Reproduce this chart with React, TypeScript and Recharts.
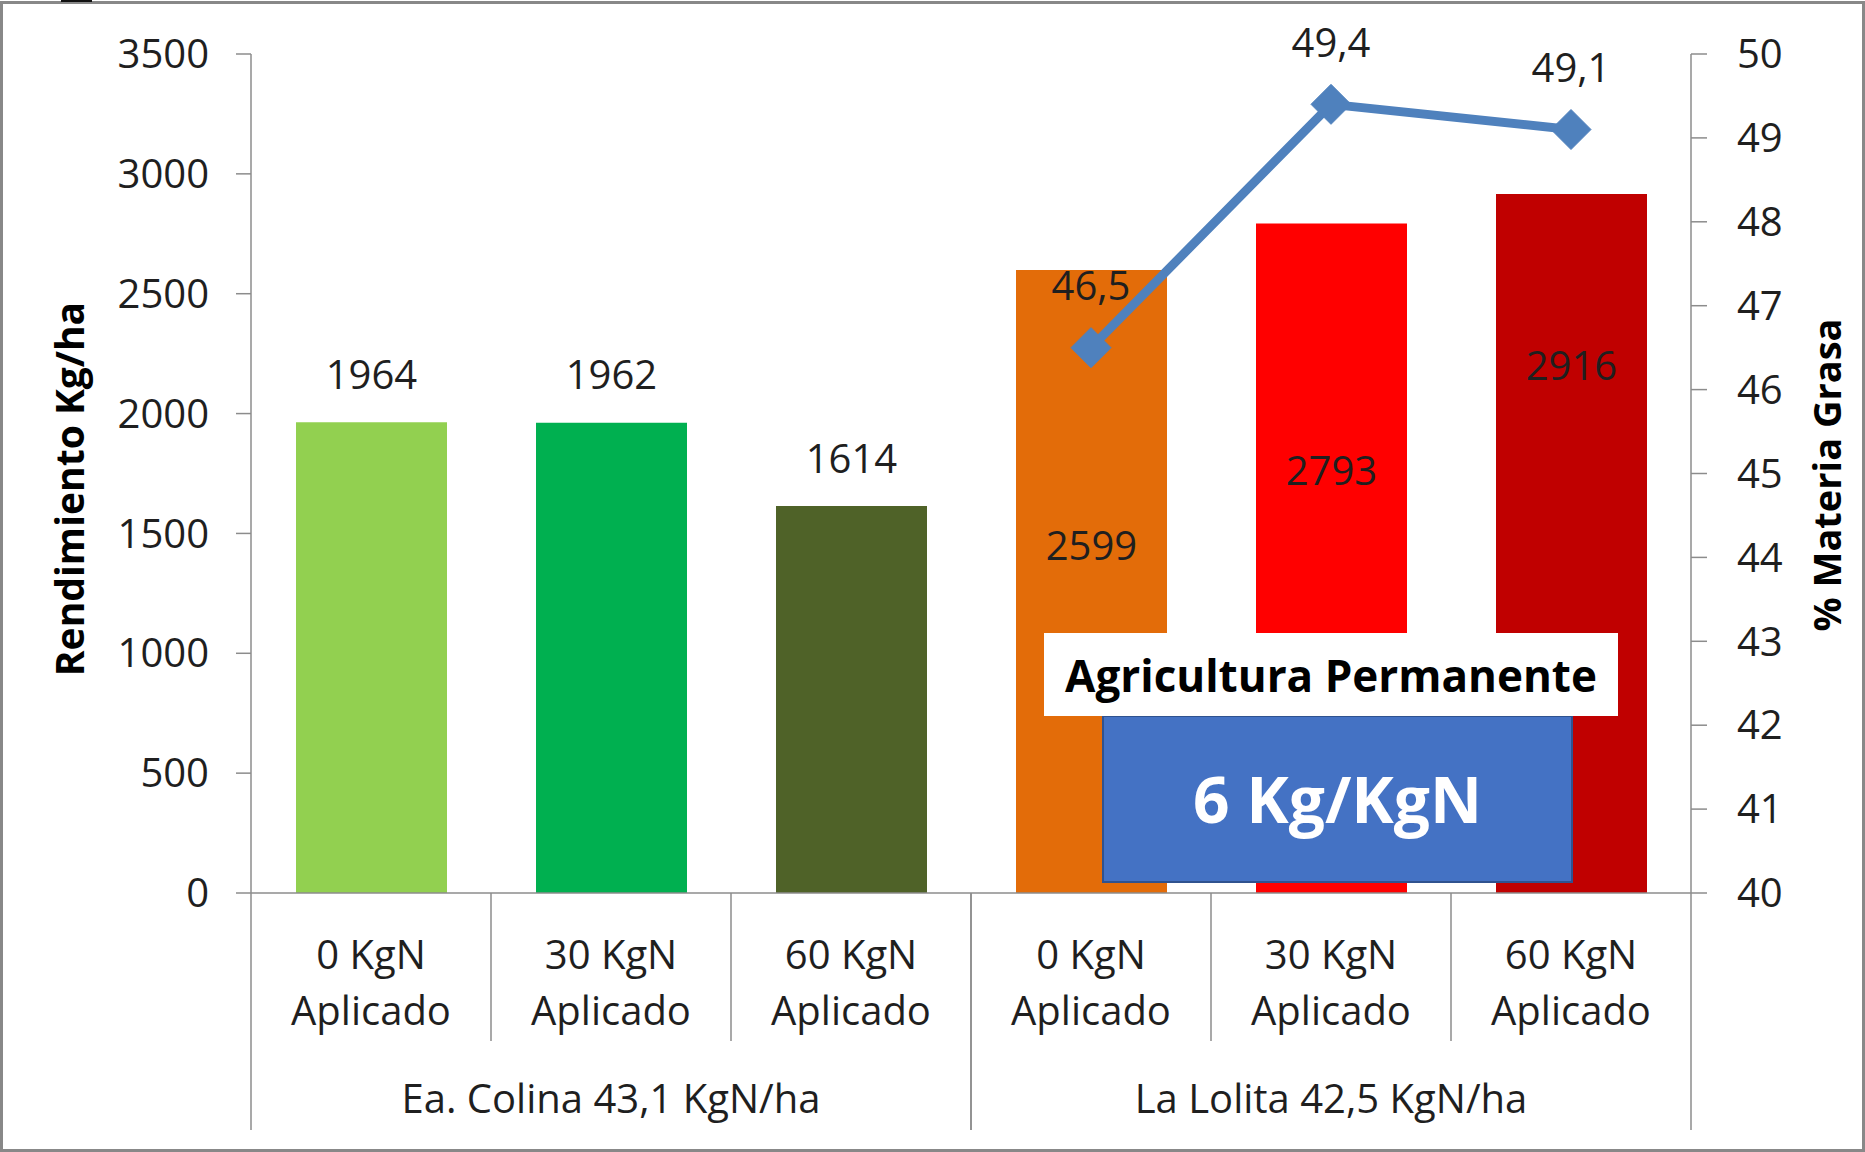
import { Bar, Cell, ComposedChart, LabelList, Line, XAxis, YAxis } from 'recharts';

const groups = ['Ea. Colina 43,1 KgN/ha', 'La Lolita 42,5 KgN/ha'];
const doses = [
  '0 KgN\nAplicado',
  '30 KgN\nAplicado',
  '60 KgN\nAplicado',
  '0 KgN\nAplicado',
  '30 KgN\nAplicado',
  '60 KgN\nAplicado',
];
const rendimiento = [1964, 1962, 1614, 2599, 2793, 2916];
const materiaGrasa: (number | null)[] = [null, null, null, 46.5, 49.4, 49.1];
const rendTicks = [0, 500, 1000, 1500, 2000, 2500, 3000, 3500];
const grasaTicks = [40, 41, 42, 43, 44, 45, 46, 47, 48, 49, 50];

const BAR_COLORS = ['#92D050', '#00B050', '#4F6228', '#E36C09', '#FF0000', '#C00000'];
const LINE_COLOR = '#4F81BD';
const AXIS_COLOR = '#8c8c8c';
const TEXT_COLOR = '#1f1f1f';
const FONT = '"Open Sans", "Noto Sans", sans-serif';

// La Lolita bar labels sit inside the bars, this far below the bar top (px)
const INNER_LABEL_DROP = [276, 247, 172];

const W = 1865;
const H = 1152;
const MARGIN = { top: 54, right: 54, bottom: 19, left: 101 };
const Y_LEFT_W = 150;
const Y_RIGHT_W = 120;
const X_AXIS_H = 240;
const AXIS_Y = H - MARGIN.bottom - X_AXIS_H;
const PLOT_W = W - MARGIN.left - MARGIN.right - Y_LEFT_W - Y_RIGHT_W;
const BAND = PLOT_W / doses.length;

const data = doses.map((d, i) => ({
  id: String(i),
  dose: d,
  rend: rendimiento[i],
  grasa: materiaGrasa[i],
}));

const fmtComma = (v: number) => v.toFixed(1).replace('.', ',');

function CategoryTick(props: any) {
  const { x, index } = props;
  const half = BAND / 2;
  const sub = index % 3;
  const [l1, l2] = doses[index].split('\n');
  const txt = { textAnchor: 'middle' as const, fill: TEXT_COLOR, fontSize: 40, fontFamily: FONT, dy: '0.36em' };
  return (
    <g>
      <text x={x} y={AXIS_Y + 62} {...txt}>{l1}</text>
      <text x={x} y={AXIS_Y + 118} {...txt}>{l2}</text>
      {sub < 2 && (
        <line x1={x + half} x2={x + half} y1={AXIS_Y} y2={AXIS_Y + 148} stroke={AXIS_COLOR} strokeWidth={1.5} />
      )}
      {sub === 0 && (
        <line x1={x - half} x2={x - half} y1={AXIS_Y} y2={AXIS_Y + 237} stroke={AXIS_COLOR} strokeWidth={1.5} />
      )}
      {sub === 2 && (
        <line x1={x + half} x2={x + half} y1={AXIS_Y} y2={AXIS_Y + 237} stroke={AXIS_COLOR} strokeWidth={1.5} />
      )}
      {sub === 1 && (
        <text x={x} y={AXIS_Y + 206} {...txt}>{groups[Math.floor(index / 3)]}</text>
      )}
    </g>
  );
}

function RendLabel(props: any) {
  const vb = props.viewBox || {};
  const x = props.x ?? vb.x;
  const y = props.y ?? vb.y;
  const width = props.width ?? vb.width;
  const { value, index } = props;
  if (value == null || x == null) return null;
  const cy = index < 3 ? y - 48 : y + INNER_LABEL_DROP[index - 3];
  return (
    <text x={x + width / 2} y={cy} dy="0.36em" textAnchor="middle" fill={TEXT_COLOR} fontSize={40} fontFamily={FONT}>
      {value}
    </text>
  );
}

function GrasaLabel(props: any) {
  const vb = props.viewBox || {};
  const x = props.x ?? vb.x;
  const y = props.y ?? vb.y;
  const { value } = props;
  if (value == null || x == null || y == null) return null;
  return (
    <text x={x} y={y - 62} dy="0.36em" textAnchor="middle" fill={TEXT_COLOR} fontSize={40} fontFamily={FONT}>
      {fmtComma(value)}
    </text>
  );
}

function Diamond(props: any) {
  const { cx, cy, index, value } = props;
  if (value == null || cx == null || cy == null) return <g key={`d${index}`} />;
  const r = 20;
  return (
    <path
      key={`d${index}`}
      d={`M${cx},${cy - r} L${cx + r},${cy} L${cx},${cy + r} L${cx - r},${cy} Z`}
      fill={LINE_COLOR}
      stroke={LINE_COLOR}
    />
  );
}

export default function App() {
  return (
    <div style={{ position: 'absolute', left: 0, top: 0, width: W, height: H, background: '#fff', fontFamily: FONT }}>
      <div
        style={{
          position: 'absolute',
          left: 0,
          top: 1,
          width: W,
          height: H - 1,
          boxSizing: 'border-box',
          border: '3px solid #888',
        }}
      />
      <div style={{ position: 'absolute', left: 61, top: 0, width: 31, height: 2, background: '#111' }} />

      <div style={{ position: 'absolute', left: 0, top: 0 }}>
        <ComposedChart width={W} height={H} data={data} margin={MARGIN}>
          <XAxis
            dataKey="id"
            height={X_AXIS_H}
            interval={0}
            tickLine={false}
            tickSize={0}
            tickMargin={0}
            axisLine={{ stroke: AXIS_COLOR, strokeWidth: 1.5 }}
            tick={(p: any) => <CategoryTick {...p} />}
          />
          <YAxis
            yAxisId="left"
            width={Y_LEFT_W}
            domain={[0, 3500]}
            ticks={rendTicks}
            interval={0}
            tickSize={15}
            tickMargin={27}
            axisLine={{ stroke: AXIS_COLOR, strokeWidth: 1.5 }}
            tickLine={{ stroke: AXIS_COLOR, strokeWidth: 1.5 }}
            tick={{ fill: TEXT_COLOR, fontSize: 40, fontFamily: FONT }}
          />
          <YAxis
            yAxisId="right"
            orientation="right"
            width={Y_RIGHT_W}
            domain={[40, 50]}
            ticks={grasaTicks}
            interval={0}
            tickSize={16}
            tickMargin={30}
            axisLine={{ stroke: AXIS_COLOR, strokeWidth: 1.5 }}
            tickLine={{ stroke: AXIS_COLOR, strokeWidth: 1.5 }}
            tick={{ fill: TEXT_COLOR, fontSize: 40, fontFamily: FONT, textAnchor: 'start' }}
          />
          <Bar yAxisId="left" dataKey="rend" barSize={151} isAnimationActive={false}>
            {data.map((d, i) => (
              <Cell key={d.id} fill={BAR_COLORS[i]} />
            ))}
            <LabelList dataKey="rend" content={(p: any) => <RendLabel {...p} />} />
          </Bar>
          <Line
            yAxisId="right"
            dataKey="grasa"
            stroke={LINE_COLOR}
            strokeWidth={9}
            dot={(p: any) => <Diamond {...p} />}
            activeDot={false}
            isAnimationActive={false}
          >
            <LabelList dataKey="grasa" content={(p: any) => <GrasaLabel {...p} />} />
          </Line>
        </ComposedChart>
      </div>

      {/* axis titles */}
      <div
        style={{
          position: 'absolute',
          left: 68,
          top: 489,
          transform: 'translate(-50%, -50%) rotate(-90deg)',
          whiteSpace: 'nowrap',
          fontSize: 39,
          fontWeight: 700,
          lineHeight: 1,
          color: '#000',
        }}
      >
        Rendimiento Kg/ha
      </div>
      <div
        style={{
          position: 'absolute',
          left: 1826,
          top: 475,
          transform: 'translate(-50%, -50%) rotate(-90deg)',
          whiteSpace: 'nowrap',
          fontSize: 38,
          fontWeight: 700,
          lineHeight: 1,
          color: '#000',
        }}
      >
        % Materia Grasa
      </div>

      {/* callouts */}
      <div
        style={{
          position: 'absolute',
          left: 1102,
          top: 715,
          width: 471,
          height: 168,
          boxSizing: 'border-box',
          background: '#4472C4',
          border: '2px solid #2F528F',
          display: 'flex',
          alignItems: 'center',
          justifyContent: 'center',
          color: '#fff',
          fontSize: 64,
          fontWeight: 700,
          lineHeight: 1,
        }}
      >
        6 Kg/KgN
      </div>
      <div
        style={{
          position: 'absolute',
          left: 1044,
          top: 633,
          width: 574,
          height: 83,
          background: '#fff',
          display: 'flex',
          alignItems: 'center',
          justifyContent: 'center',
          color: '#000',
          fontSize: 44,
          fontWeight: 700,
          lineHeight: 1,
        }}
      >
        Agricultura Permanente
      </div>
    </div>
  );
}
